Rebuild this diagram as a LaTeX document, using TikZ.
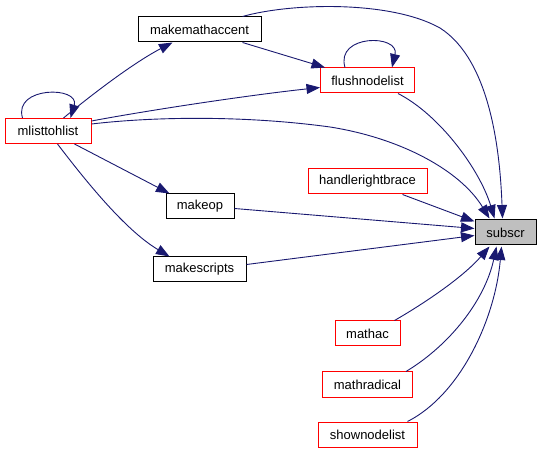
\documentclass[tikz,border=0pt]{standalone}
\usepackage{fontspec}
\setmainfont{Liberation Sans}
\usetikzlibrary{arrows.meta,calc}
\definecolor{edgeblue}{RGB}{25,25,112}
\definecolor{subgray}{RGB}{191,191,191}
\definecolor{nodered}{RGB}{255,0,0}
\tikzset{
  fn/.style={draw=black, line width=1pt, minimum height=25pt, inner sep=0pt,
    font=\fontsize{13}{15}\selectfont, fill=white},
  rfn/.style={fn, draw=nodered},
  cur/.style={fn, fill=subgray},
  e/.style={draw=edgeblue, line width=0.9pt, -{Triangle[length=13.5pt,width=10pt]}, edgeblue},
}
\begin{document}
\begin{tikzpicture}[x=1pt,y=-1pt]
\useasboundingbox (0,0) rectangle (541,454);
% nodes
\node[fn, minimum width=123pt] (mma) at (199.5,29.5) {makemathaccent};
\node[rfn, minimum width=94pt] (fnl) at (367.5,80.5) {flushnodelist};
\node[rfn, minimum width=86pt] (ml) at (48,131) {mlisttohlist};
\node[rfn, minimum width=119pt] (hrb) at (367.5,181.5) {handlerightbrace};
\node[fn, minimum width=68pt] (mop) at (200,206.5) {makeop};
\node[fn, minimum width=93pt] (msc) at (199.5,269.5) {makescripts};
\node[cur, minimum width=61pt] (sub) at (505.5,232.5) {subscr};
\node[rfn, minimum width=65pt] (mac) at (367.5,333.5) {mathac};
\node[rfn, minimum width=90pt] (mrad) at (367.5,384.5) {mathradical};
\node[rfn, minimum width=99pt] (snl) at (367.5,434.5) {shownodelist};
% edges
\draw[e] ($(ml.north west)+(18,0)$) .. controls (13,86) and (80,86) .. ($(ml.north west)+(66,0)$);
\draw[e] ($(ml.north west)+(59,0)$) .. controls (95,92) and (135,62) .. ($(mma.south west)+(35,0)$);
\draw[e] ($(mma.south west)+(105,0)$) -- ($(fnl.north west)+(5,0)$);
\draw[e] ($(fnl.north west)+(25,0)$) .. controls (335,34) and (400,34) .. ($(fnl.north west)+(72,0)$);
\draw[e] ($(ml.north east)+(0,3)$) .. controls (150,110) and (250,95) .. ($(fnl.south west)+(0,-6)$);
\draw[e] ($(mma.north west)+(105,0)$) .. controls (290,3) and (390,0) .. (440,28) .. controls (490,60) and (500,150) .. ($(sub.north west)+(28,-1)$);
\draw[e] ($(fnl.south west)+(78,0)$) .. controls (440,115) and (480,170) .. ($(sub.north west)+(20,-1)$);
\draw[e] ($(ml.north east)+(0,6)$) .. controls (160,116) and (250,116) .. (330,127) .. controls (400,138) and (460,170) .. ($(sub.north west)+(15,-1)$);
\draw[e] ($(ml.south west)+(70,0)$) -- ($(mop.north west)+(4,0)$);
\draw[e] ($(ml.south west)+(53,0)$) .. controls (85,180) and (125,230) .. ($(msc.north west)+(17,0)$);
\draw[e] ($(hrb.south west)+(95,0)$) -- ($(sub.north west)+(0,2)$);
\draw[e] ($(mop.north east)+(0,15)$) -- ($(sub.north west)+(0,9)$);
\draw[e] ($(msc.north east)+(0,8)$) -- ($(sub.north west)+(0,16)$);
\draw[e] ($(mac.north west)+(60,0)$) .. controls (430,300) and (465,275) .. ($(sub.south west)+(15,1)$);
\draw[e] ($(mrad.north west)+(84,0)$) .. controls (450,345) and (485,300) .. ($(sub.south west)+(22,1)$);
\draw[e] ($(snl.north west)+(90,0)$) .. controls (460,395) and (495,320) .. ($(sub.south west)+(27,1)$);
\end{tikzpicture}
\end{document}
